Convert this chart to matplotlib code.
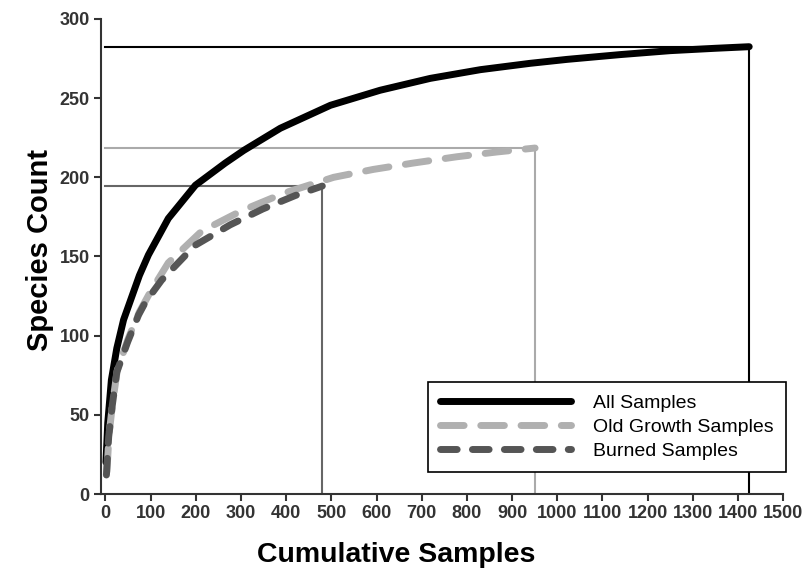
import numpy as np
import matplotlib
matplotlib.use('Agg')
import matplotlib.pyplot as plt

# curve values
all_x = [1, 5, 13, 25, 40, 55, 75, 95, 139, 199, 265, 306, 387, 498, 608, 719, 830, 940, 1022, 1139, 1250, 1350, 1425]
all_y = [20, 45, 72, 92, 110, 122, 138, 151, 174, 195, 209, 217, 231, 245.5, 255, 262.5, 268, 272, 274.5, 277.5, 280, 281.5, 282.5]

old_x = [3, 8, 16, 26, 50, 75, 100, 139, 213, 302, 395, 505, 593, 681, 778, 866, 951]
old_y = [14, 38, 58, 78, 98, 115, 128, 146, 166, 179, 190, 200, 205, 209, 213, 216, 218.5]

burn_x = [2, 7, 15, 25, 49, 73, 88, 124, 198, 276, 348, 420, 480]
burn_y = [12, 36, 56, 77, 96, 113, 121, 135, 157, 170, 180, 188.5, 194.5]

xticks = list(range(0, 1600, 100))
yticks = list(range(0, 350, 50))

plt.rcParams['font.family'] = ['Liberation Sans', 'DejaVu Sans']
plt.rcParams['lines.scale_dashes'] = False

fig = plt.figure(figsize=(8.04, 5.79), dpi=100)
ax = fig.add_axes([0.1256, 0.1468, 0.8484, 0.8204])

# reference lines to end points
ax.plot([0, all_x[-1], all_x[-1]], [all_y[-1], all_y[-1], 0], color='black', lw=1.5, zorder=2)
ax.plot([0, old_x[-1], old_x[-1]], [old_y[-1], old_y[-1], 0], color='#aaaaaa', lw=1.5, zorder=2)
ax.plot([0, burn_x[-1], burn_x[-1]], [burn_y[-1], burn_y[-1], 0], color='#666666', lw=1.5, zorder=2)

ax.plot(all_x, all_y, color='black', lw=5, solid_capstyle='round', solid_joinstyle='round',
        label='All Samples', zorder=3)
ax.plot(old_x, old_y, color='#b0b0b0', lw=5, dashes=(17, 12), dash_capstyle='round',
        dash_joinstyle='round', label='Old Growth Samples', zorder=4)
ax.plot(burn_x, burn_y, color='#555555', lw=5, dashes=(12, 11), dash_capstyle='round',
        dash_joinstyle='round', label='Burned Samples', zorder=5)

ax.set_xlim(-10, 1500)
ax.set_ylim(0, 300)
ax.set_xticks(xticks)
ax.set_yticks(yticks)
ax.tick_params(labelsize=13, direction='out', length=5, width=1.5, colors='#333333', pad=3)
for lab in ax.get_xticklabels() + ax.get_yticklabels():
    lab.set_fontweight('bold')
ax.spines['top'].set_visible(False)
ax.spines['right'].set_visible(False)
for s in ['left', 'bottom']:
    ax.spines[s].set_linewidth(1.5)
    ax.spines[s].set_color('#333333')

ax.set_xlabel('Cumulative Samples', fontsize=20.5, fontweight='bold')
ax.xaxis.set_label_coords(0.433, -0.10)
ax.set_ylabel('Species Count', fontsize=21, fontweight='bold', labelpad=4)
ax.yaxis.label.set_y(0.514)

leg = ax.legend(loc='upper left', bbox_to_anchor=(0.532, 0.340), bbox_transform=fig.transFigure,
                borderaxespad=0, fontsize=14, handlelength=6.75, handletextpad=1.13,
                fancybox=False, edgecolor='black', framealpha=1, labelspacing=0.34,
                borderpad=0.62)
leg.get_frame().set_linewidth(1.2)

fig.savefig('out.png', dpi=100)
